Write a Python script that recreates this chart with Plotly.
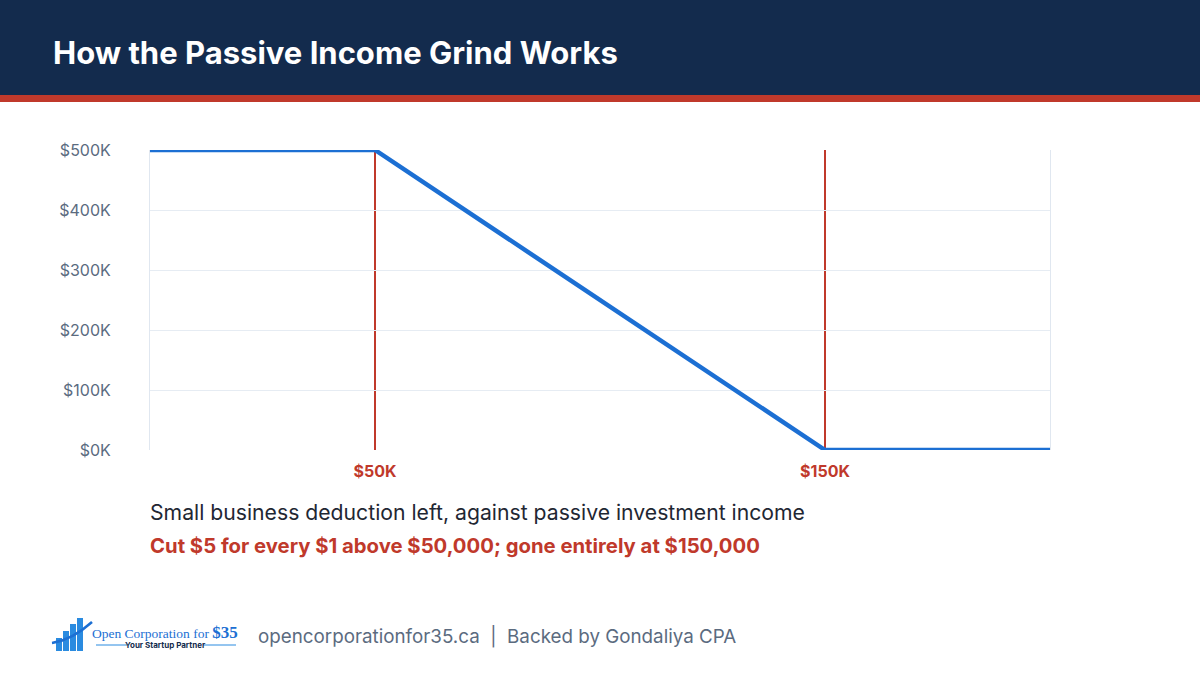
import plotly.graph_objects as go

# Data
income = [0, 50000, 150000, 200000]
deduction_left = [500000, 500000, 0, 0]
thresholds = [50000, 150000]
threshold_labels = ["$50K", "$150K"]
y_ticks = [0, 100000, 200000, 300000, 400000, 500000]
y_tick_labels = ["$0K", "$100K", "$200K", "$300K", "$400K", "$500K"]

NAVY = "#132b4d"
RED = "#c0392b"
BLUE = "#1c6fd3"
GREY = "#5b6b7f"
FONT = "Inter, Roboto, sans-serif"


def px(x):
    return (x - 150) / 900


def py(y):
    return (450 - y) / 300


fig = go.Figure()
fig.add_trace(go.Scatter(x=income, y=deduction_left, mode="lines",
                         line=dict(color=BLUE, width=4.5), hoverinfo="skip",
                         cliponaxis=False))

for t in thresholds:
    fig.add_shape(type="line", xref="x", yref="y", x0=t, x1=t, y0=0, y1=500000,
                  line=dict(color=RED, width=2), layer="below")

# Header band
fig.add_shape(type="rect", xref="paper", yref="paper", x0=-0.2, x1=1.2,
              y0=py(95), y1=py(0), fillcolor=NAVY, line_width=0, layer="below")
fig.add_shape(type="rect", xref="paper", yref="paper", x0=-0.2, x1=1.2,
              y0=py(102), y1=py(95), fillcolor=RED, line_width=0, layer="below")

fig.add_annotation(xref="paper", yref="paper", x=px(51), y=py(52),
                   text="<b>How the Passive Income Grind Works</b>", showarrow=False,
                   xanchor="left", yanchor="middle",
                   font=dict(family=FONT, size=31, color="white"))

fig.add_annotation(xref="paper", yref="paper", x=px(148), y=py(512),
                   text="Small business deduction left, against passive investment income",
                   showarrow=False, xanchor="left", yanchor="middle",
                   font=dict(family=FONT, size=21.2, color="#1f2733"))
fig.add_annotation(xref="paper", yref="paper", x=px(148), y=py(545),
                   text="<b>Cut $5 for every $1 above $50,000; gone entirely at $150,000</b>",
                   showarrow=False, xanchor="left", yanchor="middle",
                   font=dict(family=FONT, size=20.3, color=RED))

# Footer logo (approximation)
bars = [(56, 638, 6), (63, 631, 6), (70, 624, 6), (77, 618, 6)]
for x0, ytop, w in bars:
    fig.add_shape(type="rect", xref="paper", yref="paper",
                  x0=px(x0), x1=px(x0 + w), y0=py(651), y1=py(ytop),
                  fillcolor="#2a8be0", line_width=0)
fig.add_shape(type="path", xref="paper", yref="paper",
              path="M %f %f Q %f %f %f %f" % (px(52), py(643), px(72), py(640), px(92), py(622)),
              line=dict(color="#1c6fd3", width=2.5))
fig.add_annotation(xref="paper", yref="paper", x=px(90), y=py(632),
                   text="Open Corporation for <b><span style='font-size:17px'>$35</span></b>",
                   showarrow=False, xanchor="left", yanchor="middle",
                   font=dict(family="Liberation Serif, serif", size=13.5, color="#1c6fd3"))
fig.add_annotation(xref="paper", yref="paper", x=px(165), y=py(645),
                   text="<b>Your Startup Partner</b>", showarrow=False,
                   xanchor="center", yanchor="middle",
                   font=dict(family=FONT, size=8, color=NAVY))
for xa, xb in [(96, 127), (203, 236)]:
    fig.add_shape(type="line", xref="paper", yref="paper",
                  x0=px(xa), x1=px(xb), y0=py(645), y1=py(645),
                  line=dict(color="#2a8be0", width=1))

fig.add_annotation(xref="paper", yref="paper", x=px(256), y=py(636),
                   text="opencorporationfor35.ca  |  Backed by Gondaliya CPA",
                   showarrow=False, xanchor="left", yanchor="middle",
                   font=dict(family=FONT, size=18.8, color=GREY))

fig.update_layout(
    width=1200, height=675,
    margin=dict(l=150, r=150, t=150, b=225),
    paper_bgcolor="white", plot_bgcolor="white",
    showlegend=False,
    xaxis=dict(range=[0, 200000], tickvals=thresholds, ticktext=threshold_labels,
               showgrid=False, zeroline=False, showline=False, ticks="",
               tickfont=dict(family=FONT, size=16, color=RED, weight="bold"),
               ticklabelstandoff=10, fixedrange=True),
    yaxis=dict(range=[0, 500000], tickvals=y_ticks, ticktext=y_tick_labels,
               showgrid=True, gridcolor="#e6ecf3", gridwidth=1, zeroline=False,
               showline=True, mirror=True, linecolor="#e0e7f0", linewidth=1,
               ticks="", tickfont=dict(family=FONT, size=16, color=GREY),
               ticklabelstandoff=35, fixedrange=True),
)

fig.write_html("out.html", config={"displayModeBar": False},
               post_script="document.body.style.margin='0';document.body.style.padding='0';")
